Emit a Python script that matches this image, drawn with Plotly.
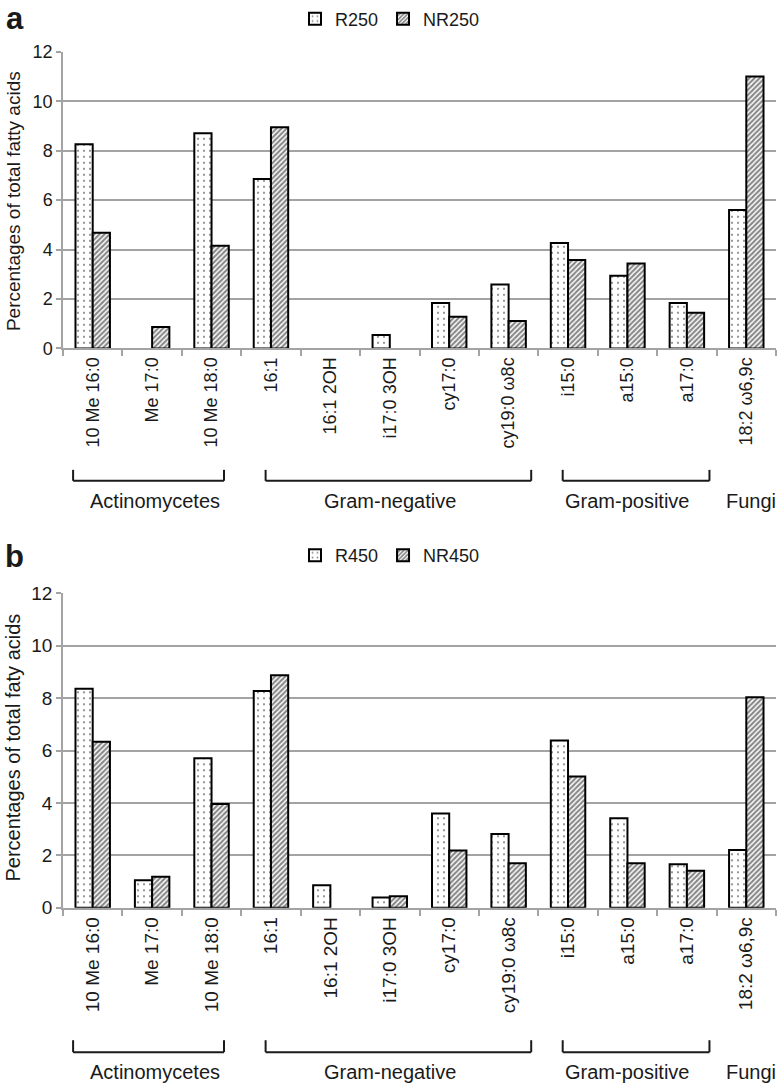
import plotly.graph_objects as go

# ---------------- data ----------------
categories = ["10 Me 16:0", "Me 17:0", "10 Me 18:0", "16:1", "16:1 2OH", "i17:0 3OH",
              "cy17:0", "cy19:0 ω8c", "i15:0", "a15:0", "a17:0", "18:2 ω6,9c"]
r250 = [8.26, 0, 8.70, 6.85, 0, 0.54, 1.84, 2.59, 4.26, 2.94, 1.84, 5.60]
nr250 = [4.68, 0.87, 4.15, 8.95, 0, 0, 1.28, 1.11, 3.58, 3.44, 1.44, 11.0]
r450 = [8.36, 1.05, 5.71, 8.27, 0.86, 0.39, 3.60, 2.82, 6.38, 3.42, 1.66, 2.21]
nr450 = [6.34, 1.19, 3.96, 8.87, 0, 0.44, 2.19, 1.70, 5.01, 1.70, 1.41, 8.03]
group_names = ["Actinomycetes", "Gram-negative", "Gram-positive", "Fungi"]
group_first = [0, 3, 8, 11]
group_last = [2, 7, 10, 11]
y_ticks = [0, 2, 4, 6, 8, 10, 12]

# ---------------- layout helpers ----------------
W, H = 780, 1087
def py(px):
    return 1 - px / H

X0, X1 = 63 / W, 776 / W
N = len(categories)
def cx(idx):
    return X0 + (idx + 0.5) / N * (X1 - X0)

FONT = "Liberation Sans, Arial, sans-serif"
TXT = "#1a1a1a"
GRID = "#a3a3a3"

dot = dict(shape=".", fgcolor="black", bgcolor="white", size=6, solidity=0.1)
hatch = dict(shape="/", fgcolor="#111111", bgcolor="white", size=3.6, solidity=0.6)

def outline(vals):
    # no outline for absent (zero) bars
    return dict(color="black", width=[2 if v > 0 else 0 for v in vals])

fig = go.Figure()
fig.add_trace(go.Bar(x=categories, y=r250, name="R250", legend="legend",
                     marker=dict(color="white", pattern=dot, line=outline(r250)),
                     xaxis="x", yaxis="y"))
fig.add_trace(go.Bar(x=categories, y=nr250, name="NR250", legend="legend",
                     marker=dict(color="white", pattern=hatch, line=outline(nr250)),
                     xaxis="x", yaxis="y"))
fig.add_trace(go.Bar(x=categories, y=r450, name="R450", legend="legend2",
                     marker=dict(color="white", pattern=dot, line=outline(r450)),
                     xaxis="x2", yaxis="y2"))
fig.add_trace(go.Bar(x=categories, y=nr450, name="NR450", legend="legend2",
                     marker=dict(color="white", pattern=hatch, line=outline(nr450)),
                     xaxis="x2", yaxis="y2"))

def xax(anchor, fs):
    return dict(domain=[X0, X1], anchor=anchor, type="category", range=[-0.5, N - 0.5],
                showline=True, linecolor=GRID, linewidth=1.5, showgrid=False,
                ticks="outside", tickson="boundaries", ticklen=6, tickcolor=GRID, tickwidth=1.5,
                tickangle=-90, tickfont=dict(family=FONT, size=fs, color=TXT), automargin=False)

def yax(anchor, dom, fs):
    return dict(domain=dom, anchor=anchor, range=[0, 12], tickvals=y_ticks,
                showgrid=True, gridcolor=GRID, gridwidth=1.5, zeroline=False,
                showline=True, linecolor=GRID, linewidth=1.5,
                ticks="outside", ticklen=5, tickcolor=GRID, tickwidth=1.5,
                tickfont=dict(family=FONT, size=fs, color=TXT), automargin=False)

annotations = [
    dict(text="<b>a</b>", x=4 / W, y=py(14), xref="paper", yref="paper", xanchor="left",
         yanchor="middle", showarrow=False, font=dict(family=FONT, size=31, color=TXT)),
    dict(text="<b>b</b>", x=3 / W, y=py(554), xref="paper", yref="paper", xanchor="left",
         yanchor="middle", showarrow=False, font=dict(family=FONT, size=31, color=TXT)),
    dict(text="Percentages of total fatty acids", x=13 / W, y=py(197), xref="paper", yref="paper",
         xanchor="center", yanchor="middle",
         textangle=-90, showarrow=False, font=dict(family=FONT, size=19, color=TXT)),
    dict(text="Percentages of total faty acids", x=13 / W, y=py(746), xref="paper", yref="paper",
         xanchor="center", yanchor="middle",
         textangle=-90, showarrow=False, font=dict(family=FONT, size=20, color=TXT)),
]

shapes = []
for (btop, bline, label_y) in [(467, 478, 498), (1040, 1052, 1072)]:
    for name, f, l in zip(group_names, group_first, group_last):
        if l > f:
            xa = cx(f - 0.33) if f == 0 else cx(f - 0.09)
            xb = cx(l + 0.21) if f == 0 else cx(l + 0.38)
            for xs, ys in [((xa, xa), (btop, bline)), ((xa, xb), (bline, bline)), ((xb, xb), (bline, btop))]:
                shapes.append(dict(type="line", xref="paper", yref="paper",
                                   x0=xs[0], x1=xs[1], y0=py(ys[0]), y1=py(ys[1]),
                                   line=dict(color="#1a1a1a", width=2)))
            mid = (f + l) / 2 + (0.05 if f == 0 else 0.0)
        else:
            mid = f + 0.08
        annotations.append(dict(text=name, x=cx(mid), y=py(label_y), xref="paper", yref="paper",
                                showarrow=False, xanchor="center", yanchor="middle",
                                font=dict(family=FONT, size=20, color=TXT)))

fig.update_layout(
    width=W, height=H, margin=dict(l=0, r=0, t=0, b=0),
    paper_bgcolor="white", plot_bgcolor="white",
    barmode="group", bargap=0.42, bargroupgap=0,
    xaxis=xax("y", 18), yaxis=yax("x", [py(345), py(47)], 18),
    xaxis2=xax("y2", 19), yaxis2=yax("x2", [py(907), py(591)], 19),
    legend=dict(orientation="h", x=0.5, xanchor="center", y=py(14), yanchor="middle",
                font=dict(family=FONT, size=18, color=TXT), bgcolor="rgba(0,0,0,0)",
                itemwidth=30, tracegroupgap=0),
    legend2=dict(orientation="h", x=0.5, xanchor="center", y=py(553), yanchor="middle",
                 font=dict(family=FONT, size=18, color=TXT), bgcolor="rgba(0,0,0,0)",
                 itemwidth=30, tracegroupgap=0),
    annotations=annotations, shapes=shapes,
)

fig.write_html("out.html", config={"displayModeBar": False},
               post_script="document.body.style.margin='0';document.body.style.overflow='hidden';")
